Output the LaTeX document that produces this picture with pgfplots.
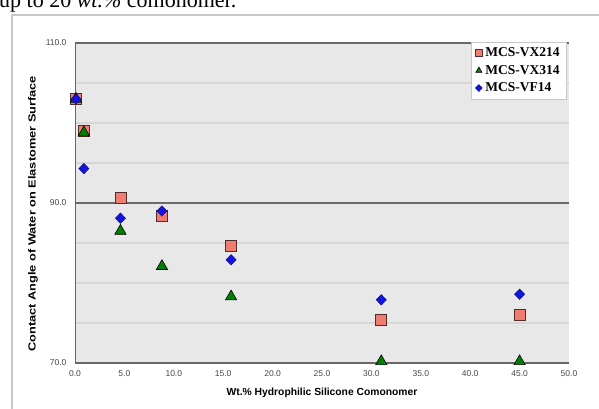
\documentclass[border=0pt]{standalone}
\usepackage{fontspec}
\setmainfont{Liberation Serif}
\setsansfont{Liberation Sans}
\usepackage{graphicx}
\usepackage{pgfplots}
\pgfplotsset{compat=1.18}
\definecolor{bgGray}{RGB}{232,232,232}
\definecolor{gridGray}{RGB}{214,214,214}
\definecolor{majGray}{RGB}{105,105,105}
\definecolor{frameGray}{RGB}{200,200,200}
\definecolor{tickGray}{RGB}{70,70,70}
\definecolor{salmon}{RGB}{240,125,112}
\definecolor{sqEdge}{RGB}{80,45,40}
\definecolor{triGreen}{RGB}{0,128,0}
\definecolor{diaBlue}{RGB}{20,20,225}
\begin{document}
\begin{tikzpicture}[x=1pt,y=1pt]
\clip (0,0) rectangle (599,408);
\draw[frameGray, line width=1.5pt] (12,-10) rectangle (630,393);
\node[anchor=base west, inner sep=0, font=\fontsize{22}{24}\selectfont] at (-1,400) {up to 20 \textit{wt.\%} comonomer.};
\begin{axis}[
  at={(75pt,45pt)}, anchor=south west,
  scale only axis, width=494pt, height=320pt,
  xmin=0, xmax=50, ymin=70, ymax=110,
  xtick={0,5,...,50}, ytick={70,90,110},
  minor ytick={75,80,85,95,100,105},
  ymajorgrids, yminorgrids,
  major grid style={majGray, line width=1.2pt},
  minor grid style={gridGray, line width=1.2pt},
  axis background/.style={fill=bgGray},
  axis lines=left,
  axis line style={-, draw=gray!80!black, line width=0.8pt},
  major tick length=0pt, minor tick length=0pt,
  /pgf/number format/assume math mode=true,
  /pgf/number format/fixed, /pgf/number format/fixed zerofill, /pgf/number format/precision=1,
  tick label style={font=\sffamily\fontsize{8.5}{9}\selectfont, text=tickGray},
  xticklabel style={yshift=-4pt},
  yticklabel style={xshift=-5pt},
  xlabel={Wt.\% Hydrophilic Silicone Comonomer},
  ylabel={\scalebox{1.24}[1]{Contact Angle of Water on Elastomer Surface}},
  label style={font=\sffamily\bfseries\fontsize{10.3}{11}\selectfont},
  xlabel style={at={(axis description cs:0.5,-0.094)}, anchor=center},
  ylabel style={at={(axis description cs:-0.085,0.466)}, anchor=center},
  legend style={at={(axis description cs:0.802,1.004)}, anchor=north west,
    draw=frameGray, fill=white, font=\bfseries\fontsize{13.5}{14}\selectfont,
    row sep=3pt, inner xsep=4pt, inner ysep=4pt,
    nodes={inner xsep=3pt}},
  legend cell align=left,
  legend image code/.code={\draw[mark repeat=2,mark phase=2] plot coordinates {(0cm,0cm) (0.08cm,0cm) (0.16cm,0cm)};},
  legend image post style={mark size=3.5pt},
  clip=false,
]
\addplot[only marks, mark=square*, mark size=5.5pt, mark options={fill=salmon, draw=sqEdge, line width=0.6pt}]
  coordinates {(0.1,103) (0.9,99) (4.6,90.6) (8.8,88.4) (15.8,84.7) (31,75.4) (45,76)};
\addlegendentry{MCS-VX214}
\addplot[only marks, mark=triangle*, mark size=6.5pt, mark options={fill=triGreen, draw=black, line width=0.6pt}]
  coordinates {(0.1,103) (0.9,98.8) (4.6,86.5) (8.8,82.1) (15.8,78.3) (31,70.2) (45,70.2)};
\addlegendentry{MCS-VX314}
\addplot[only marks, mark=diamond*, mark size=5.2pt, mark options={xscale=1.3, fill=diaBlue, draw=diaBlue!60!black, line width=0.5pt}]
  coordinates {(0.1,103) (0.9,94.3) (4.6,88.1) (8.8,89) (15.8,82.9) (31,77.9) (45,78.6)};
\addlegendentry{MCS-VF14}
\end{axis}
\end{tikzpicture}
\end{document}
